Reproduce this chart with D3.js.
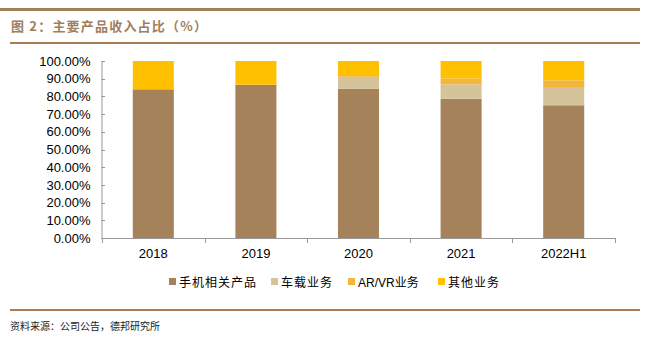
<!DOCTYPE html>
<html><head><meta charset="utf-8">
<script src="https://cdn.jsdelivr.net/npm/d3@7"></script>
<style>body{margin:0;background:#fff}svg{display:block}</style>
</head><body>
<script>
const categories = ["2018","2019","2020","2021","2022H1"];
const seriesNames = ["手机相关产品","车载业务","AR/VR业务","其他业务"];
const phone = [84.0, 86.6, 84.4, 78.7, 75.0];
const car = [0, 0, 6.7, 8.1, 10.3];
const arvr = [0, 0, 1.0, 3.4, 3.8];
const other = [16.0, 13.4, 7.9, 9.8, 10.9];
const yTicks = [0,10,20,30,40,50,60,70,80,90,100];
const colors = ["#A6825A","#D5C39C","#F4B63A","#FFC000"];

const W = 645, H = 350;
const svg = d3.select("body").append("svg").attr("width", W).attr("height", H);

// header / footer rules
svg.append("rect").attr("x",0).attr("y",8).attr("width",640).attr("height",3).attr("fill","#A07E5C");
svg.append("rect").attr("x",10).attr("y",42).attr("width",630).attr("height",2).attr("fill","#A97C52");
svg.append("rect").attr("x",10).attr("y",309).attr("width",630).attr("height",2).attr("fill","#A97C52");

svg.append("text").attr("x",11).attr("y",31)
  .attr("font-family","'Noto Sans CJK SC', sans-serif").attr("font-size",13).attr("font-weight","bold")
  .attr("letter-spacing",1.2).attr("fill","#A07E5C").text("图 2：主要产品收入占比（%）");
svg.append("text").attr("x",10).attr("y",330)
  .attr("font-family","'Noto Sans CJK SC', sans-serif").attr("font-size",10)
  .attr("fill","#222").text("资料来源：公司公告，德邦研究所");

const x = d3.scaleBand().domain(categories).range([102, 615]).paddingInner(0.6).paddingOuter(0.3);
const y = d3.scaleLinear().domain([0,100]).range([238, 61]);

const data = categories.map((c,i)=>({cat:c, s0:phone[i], s1:car[i], s2:arvr[i], s3:other[i]}));
const stack = d3.stack().keys(["s0","s1","s2","s3"])(data);

svg.append("g").selectAll("g").data(stack).join("g").attr("fill",(d,i)=>colors[i])
  .selectAll("rect").data(d=>d).join("rect")
  .attr("x", d=>x(d.data.cat)).attr("width", x.bandwidth())
  .attr("y", d=>y(d[1])).attr("height", d=>Math.max(0, y(d[0])-y(d[1])));

// y axis
const yAxis = svg.append("g").attr("transform","translate(101.5,0)")
  .call(d3.axisLeft(y).tickValues(yTicks).tickSize(0).tickPadding(11).tickFormat(d=>d.toFixed(2)+"%"));
yAxis.select(".domain").attr("stroke","#999");
yAxis.selectAll("text").attr("font-family","'Liberation Sans', Arial, sans-serif").attr("font-size",13).attr("fill","#000");
svg.append("g").selectAll("line").data(yTicks).join("line")
  .attr("x1",101.5).attr("x2",105).attr("y1",d=>Math.round(y(d))+0.5).attr("y2",d=>Math.round(y(d))+0.5).attr("stroke","#999");

// x axis
const band = (615-102)/categories.length;
svg.append("line").attr("x1",101.5).attr("x2",615).attr("y1",238.5).attr("y2",238.5).attr("stroke","#999");
svg.append("g").selectAll("line").data(d3.range(categories.length+1)).join("line")
  .attr("x1",d=>Math.round(102+d*band)+0.5).attr("x2",d=>Math.round(102+d*band)+0.5)
  .attr("y1",238).attr("y2",243).attr("stroke","#999");
svg.append("g").selectAll("text").data(categories).join("text")
  .attr("x",d=>x(d)+x.bandwidth()/2).attr("y",258).attr("text-anchor","middle")
  .attr("font-family","'Liberation Sans', Arial, sans-serif").attr("font-size",13).attr("fill","#000").text(d=>d);

// legend
const legX = [169, 271, 348, 438];
const leg = svg.append("g").selectAll("g").data(seriesNames).join("g")
  .attr("transform",(d,i)=>`translate(${legX[i]},0)`);
leg.append("rect").attr("x",0).attr("y",278).attr("width",7).attr("height",7).attr("fill",(d,i)=>colors[i]);
leg.append("text").attr("x",10).attr("y",286.5)
  .attr("font-family","'Liberation Sans','Noto Sans CJK SC', sans-serif").attr("font-size",12)
  .attr("letter-spacing",(d,i)=>i===2?0:1).attr("fill","#000").text(d=>d);
</script>
</body></html>
